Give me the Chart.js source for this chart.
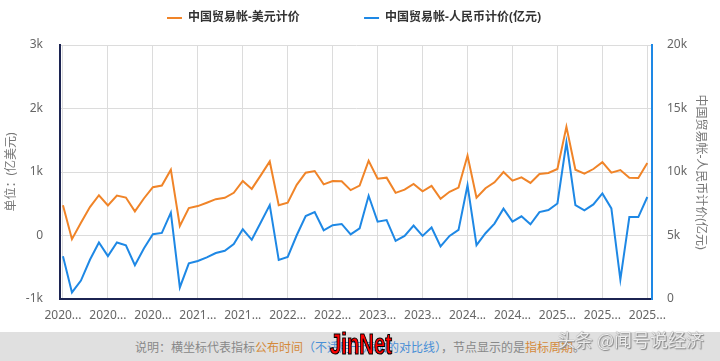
<!DOCTYPE html>
<html>
<head>
<meta charset="utf-8">
<script src="https://cdn.jsdelivr.net/npm/chart.js@4.4.1/dist/chart.umd.min.js"></script>
<style>
  html, body { margin: 0; padding: 0; background: #fff; }
  #wrap { position: relative; width: 720px; height: 361px; overflow: hidden; }
  #box { position: absolute; left: 0; top: 0; width: 720px; height: 332px; }
  #note {
    position: absolute; left: 0; top: 332px; width: 720px; height: 29px;
    background: #e0e0e0; color: #888; text-align: center;
    font: 12px "Noto Sans CJK SC", sans-serif; line-height: 30px;
  }
  #note .o { color: #d4893a; }
  #note .b { color: #4a8fd6; }
  #mark1 {
    position: absolute; left: 330px; top: 328px; color: #f00; white-space: nowrap;
    font: bold 29px "Liberation Sans", Arial, sans-serif;
    -webkit-text-stroke: 1.2px #000; transform: scaleX(0.7); transform-origin: left top;
  }
  #mark2 {
    position: absolute; left: 557px; top: 326px; color: rgba(250,250,250,0.9); white-space: nowrap;
    font: 18px "Noto Sans CJK SC", sans-serif;
    text-shadow: 0 0 1px #666, 1px 1px 1px #888;
  }
</style>
</head>
<body>
<div id="wrap">
  <div id="box"><canvas id="chart"></canvas></div>
  <div id="note">说明：横坐标代表指标<span class="o">公布时间</span><span class="b">（不适用于添加的对比线）</span>，节点显示的是<span class="o">指标周期</span>。</div>
  <div id="mark1">JinNet</div>
  <div id="mark2">头条 @闻号说经济</div>
</div>
<script>
const periods = [
  '2020-02','2020-03','2020-04','2020-05','2020-06','2020-07','2020-08','2020-09','2020-10','2020-11','2020-12',
  '2021-02','2021-03','2021-04','2021-05','2021-06','2021-07','2021-08','2021-09','2021-10','2021-11','2021-12',
  '2022-02','2022-03','2022-04','2022-05','2022-06','2022-07','2022-08','2022-09','2022-10','2022-11','2022-12',
  '2023-02','2023-03','2023-04','2023-05','2023-06','2023-07','2023-08','2023-09','2023-10','2023-11','2023-12',
  '2024-02','2024-03','2024-04','2024-05','2024-06','2024-07','2024-08','2024-09','2024-10','2024-11','2024-12',
  '2025-02','2025-03','2025-04','2025-05','2025-06','2025-07','2025-08','2025-09','2025-10','2025-11','2025-12'
];

// 亿美元
const usdBalance = [
  478, -58, 200, 447, 634, 473, 630, 598, 380, 583, 760,
  786, 1036, 150, 431, 463, 516, 572, 594, 672, 859, 734,
  947, 1166, 478, 516, 797, 989, 1016, 806, 859, 853, 715,
  786, 1177, 895, 911, 672, 723, 813, 697, 781, 578, 688,
  755, 1259, 594, 744, 838, 1000, 864, 916, 828, 969, 984,
  1047, 1713, 1036, 973, 1047, 1156, 989, 1031, 911, 906, 1141
];

// 亿元
const cnyBalance = [
  3360, 520, 1450, 3090, 4450, 3380, 4450, 4220, 2660, 3980, 5100,
  5200, 6800, 910, 2810, 2990, 3280, 3620, 3800, 4320, 5490, 4660,
  6020, 7390, 3070, 3310, 5020, 6530, 6840, 5410, 5810, 5910, 5090,
  5570, 8130, 6090, 6220, 4580, 4970, 5780, 4970, 5630, 4140, 4970,
  5440, 8950, 4240, 5180, 5940, 7110, 6090, 6510, 5880, 6840, 7000,
  7520, 12340, 7390, 6980, 7450, 8310, 7130, 1530, 6450, 6450, 8030
];

const seriesNames = ['中国贸易帐-美元计价', '中国贸易帐-人民币计价(亿元)'];
const xTickIdx = [0, 5, 10, 15, 20, 25, 30, 35, 40, 45, 50, 55, 60, 65];

const ORANGE = '#f08428';
const BLUE   = '#1e88e5';
const NAVY   = '#1c2452';
const GRID   = '#dcdcdc';
const FONT   = '"Noto Sans", "Noto Sans CJK SC", sans-serif';

const kfmt = v => v === 0 ? '0' : (v / 1000) + 'k';

// push the plot down a bit under the legend
const legendGap = {
  id: 'legendGap',
  beforeLayout(chart) {
    const lg = chart.legend;
    if (!lg || lg._gapPatched) return;
    const fit = lg.fit;
    lg.fit = function () { fit.call(this); this.height += 11; };
    lg._gapPatched = true;
  }
};

new Chart(document.getElementById('chart'), {
  type: 'line',
  data: {
    datasets: [{
      label: seriesNames[0],
      data: usdBalance.map((v, i) => ({ x: i, y: v })),
      borderColor: ORANGE,
      backgroundColor: ORANGE,
      borderWidth: 2,
      pointRadius: 0,
      tension: 0,
      yAxisID: 'y'
    }, {
      label: seriesNames[1],
      data: cnyBalance.map((v, i) => ({ x: i, y: v })),
      borderColor: BLUE,
      backgroundColor: BLUE,
      borderWidth: 2,
      pointRadius: 0,
      tension: 0,
      yAxisID: 'y1'
    }]
  },
  plugins: [legendGap],
  options: {
    responsive: true,
    maintainAspectRatio: false,
    animation: false,
    layout: { padding: { top: 2, left: 0, right: 0, bottom: 0 } },
    plugins: {
      tooltip: { enabled: false },
      legend: {
        position: 'top',
        labels: {
          boxWidth: 15,
          boxHeight: 2,
          padding: 10,
          color: '#333',
          font: { family: FONT, size: 12, weight: 'bold' },
          generateLabels: (chart) => {
            const items = Chart.defaults.plugins.legend.labels.generateLabels(chart);
            items.forEach(it => { it.lineWidth = 0; });
            items[0].text = items[0].text + '\u3000\u3000\u3000\u3000  ';
            items[1].text = items[1].text + '\u3000';
            return items;
          }
        }
      }
    },
    scales: {
      x: {
        type: 'linear',
        min: -0.33,
        max: 65.52,
        afterBuildTicks: (scale) => { scale.ticks = xTickIdx.map(v => ({ value: v })); },
        afterFit: (scale) => { scale.height = 33; },
        grid: { color: GRID, drawTicks: false },
        border: { color: NAVY, width: 2 },
        ticks: {
          padding: 9,
          color: '#666',
          font: { family: FONT, size: 12 },
          maxRotation: 0,
          callback: (v) => periods[v] ? periods[v].slice(0, 4) + '...' : ''
        }
      },
      y: {
        position: 'left',
        min: -1000,
        max: 3000,
        afterFit: (scale) => { scale.width = 60; },
        grid: { color: GRID, drawTicks: false },
        border: { color: NAVY, width: 2 },
        ticks: {
          stepSize: 1000,
          padding: 17,
          color: '#666',
          font: { family: FONT, size: 12 },
          callback: kfmt
        },
        title: {
          display: true,
          text: '单位：(亿美元)',
          color: '#777',
          padding: { top: 4, bottom: 0 },
          font: { family: FONT, size: 12 }
        }
      },
      y1: {
        position: 'right',
        min: 0,
        max: 20000,
        afterFit: (scale) => { scale.width = 68; },
        grid: { drawOnChartArea: false, drawTicks: false },
        border: { color: BLUE, width: 2 },
        ticks: {
          stepSize: 5000,
          padding: 15,
          color: '#666',
          font: { family: FONT, size: 12 },
          callback: kfmt
        },
        title: {
          display: true,
          text: seriesNames[1],
          color: '#777',
          padding: { top: 12, bottom: 0 },
          font: { family: FONT, size: 12 }
        }
      }
    }
  }
});
</script>
</body>
</html>
